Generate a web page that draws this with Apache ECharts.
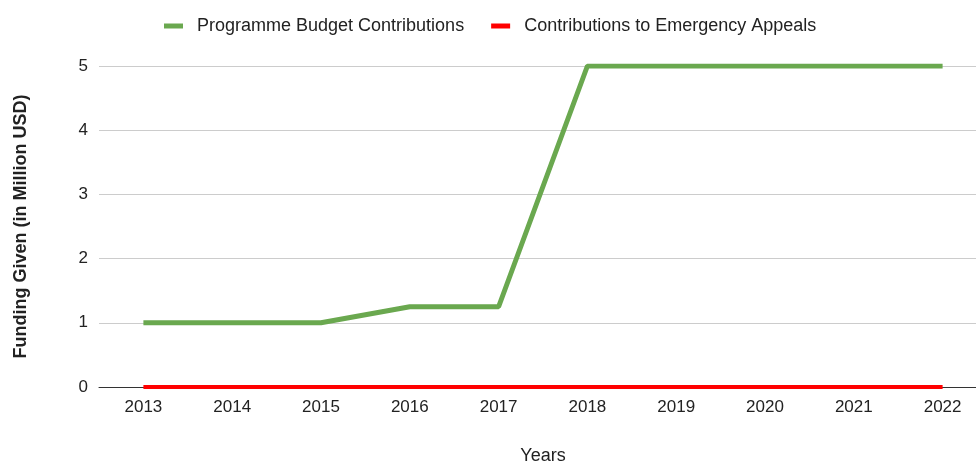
<!DOCTYPE html>
<html>
<head>
<meta charset="utf-8">
<script src="https://cdn.jsdelivr.net/npm/echarts@6/dist/echarts.min.js"></script>
<style>
html,body{margin:0;padding:0;background:#fff;}
#c{width:976px;height:461px;}
</style>
</head>
<body>
<div id="c"></div>
<script>
const years = ['2013','2014','2015','2016','2017','2018','2019','2020','2021','2022'];
const programmeBudget = [1, 1, 1, 1.25, 1.25, 5, 5, 5, 5, 5];
const emergencyAppeals = [0, 0, 0, 0, 0, 0, 0, 0, 0, 0];
const seriesNames = ['Programme Budget Contributions', 'Contributions to Emergency Appeals'];

const font = '"Liberation Sans", Arial, sans-serif';
const chart = echarts.init(document.getElementById('c'), null, {renderer: 'canvas'});
chart.setOption({
  animation: false,
  backgroundColor: '#fff',
  textStyle: {fontFamily: font},
  legend: {
    left: 159, top: 12,
    icon: 'rect', itemWidth: 19, itemHeight: 5, itemGap: 27,
    textStyle: {fontSize: 18, color: '#222', fontFamily: font, padding: [0, 0, 0, 9]},
    data: seriesNames
  },
  grid: {left: 99, right: -11, top: 66, bottom: 74, containLabel: false, outerBoundsMode: 'none'},
  xAxis: {
    type: 'category', data: years, boundaryGap: true,
    name: 'Years', nameLocation: 'middle', nameGap: 60,
    nameTextStyle: {fontSize: 18, color: '#222', fontFamily: font},
    axisLine: {show: true, lineStyle: {color: '#333', width: 1}},
    axisTick: {show: false},
    axisLabel: {fontSize: 17, color: '#222', margin: 12, fontFamily: font}
  },
  yAxis: {
    type: 'value', min: 0, max: 5, interval: 1,
    name: 'Funding Given (in Million USD)', nameLocation: 'middle', nameGap: 69,
    nameTextStyle: {fontSize: 18, fontWeight: 'bold', color: '#222', fontFamily: font},
    axisLine: {show: false}, axisTick: {show: false},
    axisLabel: {fontSize: 17, color: '#222', margin: 11, fontFamily: font},
    splitLine: {lineStyle: {color: '#cccccc', width: 1}}
  },
  series: [
    {name: seriesNames[0], type: 'line', data: programmeBudget, showSymbol: false, symbol: 'none',
     itemStyle: {color: '#6aa84f'}, lineStyle: {color: '#6aa84f', width: 5}, z: 3},
    {name: seriesNames[1], type: 'line', data: emergencyAppeals, showSymbol: false, symbol: 'none',
     itemStyle: {color: '#ff0000'}, lineStyle: {color: '#ff0000', width: 4}, z: 4}
  ]
});
</script>
</body>
</html>
